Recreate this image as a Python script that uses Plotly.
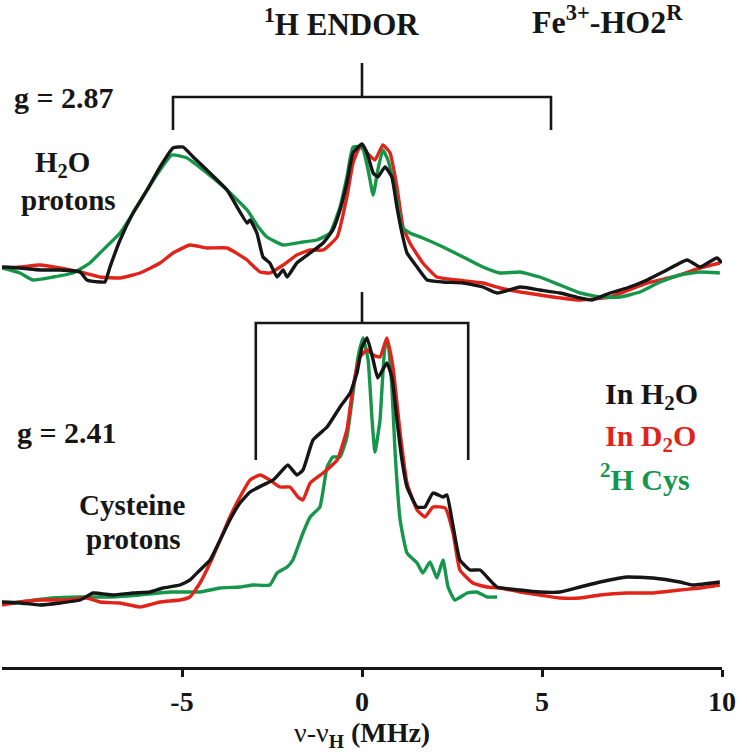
import plotly.graph_objects as go

# ---------------- data (x in MHz, intensity in arbitrary units) ----------------
# upper spectrum, g = 2.87
up_h2o_x = [-10.0, -9.5, -8.94, -8.39, -7.83, -7.64, -7.28, -7.14, -7.0, -6.72, -6.36, -5.97, -5.61, -5.25, -4.97,
            -4.69, -4.31, -3.75, -3.19, -3.11, -2.92, -2.75, -2.56, -2.36, -2.19, -2.08, -1.81, -1.44, -1.08, -0.81,
            -0.61, -0.42, -0.25, 0.0, 0.14, 0.31, 0.44, 0.64, 0.83, 0.97, 1.11, 1.25, 1.53, 1.81, 2.25, 2.81, 3.36,
            3.75, 4.39, 4.94, 5.5, 6.06, 6.39, 6.89, 7.36, 7.92, 8.47, 9.03, 9.39, 9.86, 10.0]
up_h2o_y = [3, 2, 0, 0, -2, -10, -12, -12, 3, 30, 57, 80, 103, 122, 123,
            113, 100, 80, 47, 50, 37, 13, 7, -7, 0, -7, 7, 17, 27, 40,
            60, 87, 117, 126, 117, 97, 93, 103, 93, 63, 37, 17, 3, -10, -12, -13, -17,
            -23, -17, -20, -23, -28, -30, -23, -18, -10, 0, 10, 3, 12, 7]

up_d2o_x = [-10.0, -9.5, -8.94, -8.39, -7.83, -7.28, -6.72, -6.17, -5.61, -5.25, -4.78, -4.31, -3.75, -3.19, -3.11,
            -2.83, -2.56, -2.19, -1.81, -1.44, -1.08, -0.69, -0.42, -0.25, -0.06, 0.14, 0.36, 0.58, 0.78, 0.97,
            1.14, 1.33, 1.69, 2.08, 2.64, 3.36, 3.83, 4.94, 6.06, 6.89, 7.92, 8.64, 9.39, 9.94]
up_d2o_y = [2, 3, 5, 2, -2, -7, -8, -3, 7, 17, 25, 22, 22, 10, 7,
            -2, -3, 5, 15, 20, 20, 33, 73, 107, 123, 117, 110, 125, 117, 83,
            43, 27, 7, -7, -10, -13, -18, -25, -30, -27, -13, -7, 2, 7]

up_cys_x = [-10.0, -9.5, -9.14, -8.58, -8.03, -7.56, -7.28, -6.72, -6.36, -5.97, -5.61, -5.28, -4.86, -4.31, -3.75,
            -3.19, -2.9, -2.64, -2.19, -1.64, -1.25, -0.89, -0.61, -0.42, -0.25, 0.0, 0.17, 0.31, 0.44, 0.58,
            0.72, 0.92, 1.11, 1.33, 1.69, 2.25, 2.81, 3.36, 3.83, 4.39, 4.94, 5.5, 6.06, 6.61, 7.17, 7.72, 8.28,
            8.83, 9.39, 9.94]
up_cys_y = [2, -3, -10, -7, -3, 7, 17, 37, 57, 80, 100, 115, 112, 97, 80,
            60, 44, 33, 25, 28, 30, 37, 63, 93, 123, 123, 100, 75, 100, 120,
            110, 80, 43, 37, 32, 23, 13, 3, -3, -2, -7, -15, -23, -27, -27, -22, -12,
            -5, -2, -3]

# lower spectrum, g = 2.41
lo_h2o_x = [-10.0, -9.5, -8.94, -8.39, -7.83, -7.47, -6.92, -6.36, -5.89, -5.53, -5.06, -4.78, -4.5, -4.22, -3.94,
            -3.67, -3.39, -3.11, -2.75, -2.47, -2.28, -2.06, -1.81, -1.64, -1.36, -0.97, -0.61, -0.33, -0.14, 0.0,
            0.14, 0.31, 0.44, 0.69, 0.83, 0.97, 1.11, 1.25, 1.53, 1.75, 1.97, 2.25, 2.36, 2.5, 2.72, 3.0, 3.28,
            3.75, 4.39, 4.94, 5.5, 6.06, 6.61, 7.36, 8.08, 8.83, 9.19, 9.94]
lo_h2o_y = [-2, -3, -5, -3, 0, 7, 5, 7, 8, 12, 15, 20, 30, 40, 60,
            80, 97, 108, 115, 120, 127, 135, 125, 130, 160, 173, 193, 207, 227, 253,
            262, 240, 222, 237, 223, 180, 140, 113, 93, 93, 107, 103, 105, 80, 40, 30, 30,
            13, 10, 8, 8, 13, 18, 23, 22, 18, 15, 18]

lo_d2o_x = [-10.0, -9.5, -8.94, -8.19, -7.64, -7.28, -6.72, -6.17, -5.61, -5.06, -4.78, -4.5, -4.22, -3.94, -3.67,
            -3.39, -3.11, -2.83, -2.56, -2.28, -2.0, -1.78, -1.64, -1.44, -1.08, -0.69, -0.42, -0.25, -0.06, 0.14,
            0.31, 0.5, 0.69, 0.86, 1.06, 1.25, 1.53, 1.75, 1.97, 2.31, 2.53, 2.72, 3.08, 3.47, 3.83, 4.39, 4.94,
            5.5, 6.06, 6.61, 7.36, 8.08, 8.83, 9.39, 9.94]
lo_d2o_y = [-5, -2, 0, 0, 2, -2, -3, -7, -2, 0, 3, 17, 37, 60, 83,
            103, 120, 125, 120, 113, 113, 103, 100, 117, 127, 140, 170, 213, 243, 250,
            245, 243, 262, 233, 167, 117, 90, 83, 93, 92, 67, 30, 17, 13, 12, 8, 5,
            2, 2, 5, 7, 7, 10, 12, 15]

lo_cys_x = [-10.0, -9.5, -8.61, -7.83, -6.97, -6.17, -5.33, -4.78, -4.5, -3.94, -3.39, -3.03, -2.56, -2.36, -2.08,
            -1.92, -1.64, -1.44, -1.17, -0.97, -0.81, -0.61, -0.42, -0.25, -0.11, 0.03, 0.17, 0.28, 0.36, 0.5,
            0.64, 0.72, 0.83, 0.92, 1.06, 1.25, 1.53, 1.69, 1.89, 2.08, 2.25, 2.39, 2.58, 2.92, 3.19, 3.47, 3.75]
lo_cys_y = [-3, -2, 2, 3, 3, 5, 8, 8, 8, 12, 13, 15, 15, 27, 33,
            40, 67, 83, 93, 133, 143, 143, 163, 207, 243, 262, 240, 180, 148, 180,
            253, 257, 213, 147, 80, 47, 37, 27, 38, 22, 40, 13, 0, 7, 8, 3, 3]

upper_offset = 330

# bracket markers (x in MHz, y in plot units)
br_up_x = [-5.25, -5.25, 5.25, 5.25]
br_up_y = [470, 503, 503, 470]
br_up_stem_y = [503, 537]
br_lo_x = [-2.95, -2.95, 2.95, 2.95]
br_lo_y = [140, 277, 277, 140]
br_lo_stem_y = [277, 308]

tick_vals = [-5, 0, 5, 10]
tick_text = ["-5", "0", "5", "10"]

BLACK = "#161616"
RED = "#e2231a"
GREEN = "#15964a"
FONT = "Liberation Serif"

fig = go.Figure()

def add_line(x, y, color, width=3.4, offset=0):
    fig.add_trace(go.Scatter(x=x, y=[v + offset for v in y], mode="lines",
                             line=dict(color=color, width=width, shape="spline", smoothing=0.4),
                             hoverinfo="skip", showlegend=False))

# upper spectra
add_line(up_d2o_x, up_d2o_y, RED, offset=upper_offset)
add_line(up_cys_x, up_cys_y, GREEN, offset=upper_offset)
add_line(up_h2o_x, up_h2o_y, BLACK, offset=upper_offset)
# lower spectra
add_line(lo_cys_x, lo_cys_y, GREEN)
add_line(lo_d2o_x, lo_d2o_y, RED)
add_line(lo_h2o_x, lo_h2o_y, BLACK)

# brackets
for bx, by in [(br_up_x, br_up_y), (br_lo_x, br_lo_y)]:
    fig.add_trace(go.Scatter(x=bx, y=by, mode="lines", line=dict(color=BLACK, width=2.6),
                             hoverinfo="skip", showlegend=False))
for sy in [br_up_stem_y, br_lo_stem_y]:
    fig.add_trace(go.Scatter(x=[0, 0], y=sy, mode="lines", line=dict(color=BLACK, width=2.6),
                             hoverinfo="skip", showlegend=False))

def note(text, x, y, size, color=BLACK, xref="x", yref="y", weight="bold"):
    fig.add_annotation(text=text, x=x, y=y, xref=xref, yref=yref, showarrow=False,
                       xanchor="center", yanchor="middle", borderpad=0,
                       font=dict(family=FONT, size=size, color=color, weight=weight))

note("<sup>1</sup>H ENDOR", -0.58, 578, 31)
note("Fe<sup>3+</sup>-HO2<sup>R</sup>", 6.83, 580, 32)
note("g = 2.87", -8.29, 503, 30)
note("H<sub>2</sub>O", -8.33, 436, 29)
note("protons", -8.15, 400, 29)
note("g = 2.41", -8.19, 168, 30)
note("Cysteine", -6.39, 95, 29)
note("protons", -6.36, 61, 29)
note("In H<sub>2</sub>O", 8.03, 204, 30, BLACK)
note("In D<sub>2</sub>O", 8.0, 162, 30, RED)
note("<sup>2</sup>H Cys", 7.86, 123, 30, GREEN)
note("ν-ν<sub><b>H</b></sub> <b>(MHz)</b>", 0.0, -0.101, 28, xref="x", yref="paper", weight="normal")

fig.update_layout(
    width=747, height=752,
    margin=dict(l=2, r=25, t=0, b=85),
    paper_bgcolor="white", plot_bgcolor="white",
    showlegend=False, hovermode=False,
    xaxis=dict(range=[-10, 10], showgrid=False, zeroline=False,
               showline=True, linecolor=BLACK, linewidth=3,
               ticks="outside", ticklen=7, tickwidth=3, tickcolor=BLACK,
               tickvals=tick_vals, ticktext=tick_text,
               tickfont=dict(family=FONT, size=28, color=BLACK, weight="bold")),
    yaxis=dict(range=[-67, 600], visible=False, showgrid=False, zeroline=False),
)

fig.write_html("out.html", config={"displayModeBar": False},
               post_script="document.body.style.margin='0';")
